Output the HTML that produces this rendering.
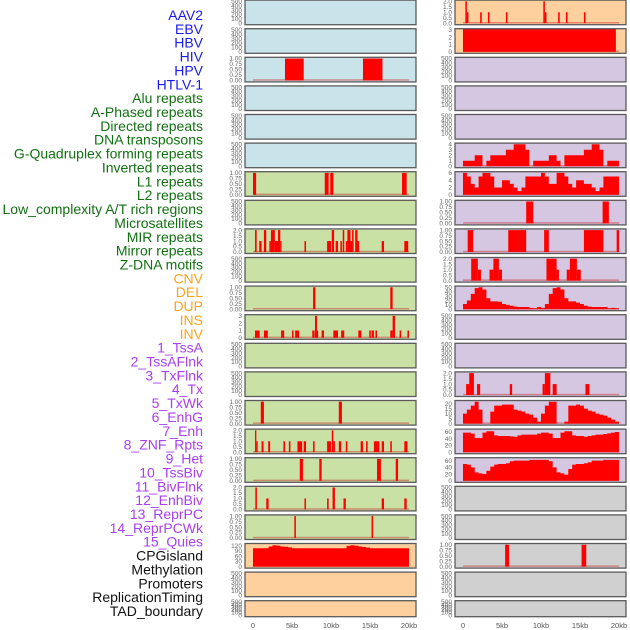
<!DOCTYPE html>
<html><head><meta charset="utf-8">
<style>
html,body{margin:0;padding:0;background:#fff;}
svg{display:block;}
.lbl{font-family:"Liberation Sans",sans-serif;font-size:14px;}
.tk{font-family:"Liberation Sans",sans-serif;font-size:6.5px;fill:#666;}
.xt{font-family:"Liberation Sans",sans-serif;font-size:7.5px;fill:#555;}
</style></head>
<body>
<svg id="chart" width="630" height="630" viewBox="0 0 630 630">
<g id="labels"></g>
<g id="panels"></g>
<g id="xaxis"></g>
</svg>
<script>
// ---- data ----
const labelNames = ["AAV2","EBV","HBV","HIV","HPV","HTLV-1","Alu repeats","A-Phased repeats","Directed repeats","DNA transposons","G-Quadruplex forming repeats","Inverted repeats","L1 repeats","L2 repeats","Low_complexity A/T rich regions","Microsatellites","MIR repeats","Mirror repeats","Z-DNA motifs","CNV","DEL","DUP","INS","INV","1_TssA","2_TssAFlnk","3_TxFlnk","4_Tx","5_TxWk","6_EnhG","7_Enh","8_ZNF_Rpts","9_Het","10_TssBiv","11_BivFlnk","12_EnhBiv","13_ReprPC","14_ReprPCWk","15_Quies","CPGisland","Methylation","Promoters","ReplicationTiming","TAD_boundary"];
const labelGroups = [0,0,0,0,0,0,1,1,1,1,1,1,1,1,1,1,1,1,1,2,2,2,2,2,3,3,3,3,3,3,3,3,3,3,3,3,3,3,3,4,4,4,4,4];
const xTickValues = [0,5,10,15,20];
const xTickLabels = ["0","5kb","10kb","15kb","20kb"];
const emptyTicks = [0,100,200,300,400,500];
const emptyTickLabels = ["0","100","200","300","400","500"];
const tick1 = [0,0.25,0.5,0.75,1]; const tick1L = ["0.00","0.25","0.50","0.75","1.00"];
const tick2 = [0,0.5,1,1.5,2]; const tick2L = ["0.0","0.5","1.0","1.5","2.0"];
const tick3 = [0,1,2,3]; const tick3L = ["0","1","2","3"];

// left column panels (bars: [startKb, endKb, value])
const leftBg = ["b","b","b","b","b","b","g","g","g","g","g","g","g","g","g","g","g","g","g","o","o","o"];
const leftBars = {
 2: [[4.1,6.5,1],[14.1,16.6,1]],
 6: [[0,0.4,1],[9.2,9.7,1],[9.9,10.3,1],[19.1,19.7,1]],
 8: [[0.26,0.47,2],[0.8,1.1,1],[1.4,1.7,2],[2.1,2.3,1],[2.3,2.8,2],[2.8,3.3,1],[3.2,3.5,2],[3.5,3.6,1],[6.6,6.8,1],[9.5,10.0,1],[10.1,10.4,2],[10.6,10.9,1],[11.2,11.4,1],[11.5,11.7,2],[11.9,12.1,1],[12.1,12.5,2],[12.5,12.7,1],[12.7,12.9,2],[13.1,13.4,2],[13.4,13.6,1],[16.5,16.8,1],[19.4,19.9,1]],
 10: [[7.7,8.0,1],[17.6,17.9,1]],
 11: [[0.26,0.85,1],[1.4,1.9,1],[3.6,4.0,1],[5.0,5.2,1],[5.4,5.9,1],[7.6,7.9,1],[7.95,8.2,3],[8.2,8.3,1],[8.8,9.1,1],[10.3,10.9,1],[11.3,11.7,1],[13.5,13.9,1],[14.9,15.1,1],[15.2,15.5,1],[15.7,15.9,1],[17.6,17.9,1],[17.9,18.2,3],[18.8,19.0,1],[19.8,20.0,1]],
 14: [[1.0,1.4,1],[11.0,11.4,1]],
 15: [[0.26,0.43,2],[0.43,0.6,1],[1.1,1.35,1],[1.95,2.2,1],[3.9,4.1,1],[4.6,4.8,1],[5.7,6.3,1],[6.5,6.8,1],[7.7,7.9,1],[9.5,10.0,1],[10.1,10.3,2],[10.3,10.5,1],[11.0,11.3,1],[11.9,12.1,1],[13.8,14.1,1],[14.5,14.7,1],[15.5,16.2,1],[16.5,16.8,1],[17.6,17.8,1],[19.4,19.8,1]],
 16: [[6.0,6.4,1],[8.5,8.8,1],[15.9,16.4,1],[18.3,18.6,1]],
 17: [[0.3,0.5,2],[1.7,2.0,1],[6.6,6.8,1],[9.5,9.7,1],[10.2,10.5,2],[11.6,11.9,1],[16.5,16.8,1],[19.4,19.7,1]],
 18: [[5.3,5.5,1],[15.2,15.4,1]]
};
const leftBins = {
 19: [105,105,105,105,115,122,120,115,113,110,105,105,105,105,105,105,105,105,105,105,105,105,105,105,118,122,120,115,112,108,105,105,105,105,105,105,105,105,105,105]
};
const leftScale = {2:1,6:1,8:2,10:1,11:3,14:1,15:2,16:1,17:2,18:1,19:125};

// right column panels
const rightBg = ["o","o","p","p","p","p","p","p","p","p","p","p","p","p","p","p","p","y","y","y","y","y"];
const rightBars = {
 0: [[0.3,0.5,2],[0.5,0.7,1],[2.2,2.4,1],[3.2,3.4,1],[5.5,5.7,1],[10.3,10.5,2],[10.5,10.7,1],[12.2,12.4,1],[13.2,13.4,1],[15.5,15.7,1]],
 1: [[0,19.6,3.3]],
 7: [[8.1,9.0,1],[17.9,18.7,1]],
 8: [[0.6,1.3,1],[5.8,8.1,1],[10.4,11.0,1],[15.5,18.0,1],[19.7,20.0,1]],
 9: [[1.05,1.9,2],[1.9,2.3,1],[3.4,3.9,1],[3.9,4.6,2],[4.6,5.0,1],[10.7,12.0,2],[12.0,12.3,1],[13.3,13.7,1],[13.7,14.6,2],[14.6,15.1,1]],
 13: [[0.4,0.8,1],[0.8,1.4,2],[1.8,2.2,1],[6.0,6.3,1],[10.2,10.5,1],[10.5,11.2,2],[11.5,12.0,1],[15.7,16.2,1]],
 19: [[5.4,5.9,1],[15.2,15.8,1]]
};
const rightBins = {
 5: [1,1,1,2,2,0,1,2,2,2,2,3,3,4,4,4,3,0,1,1,1,1,2,2,1,0,2,2,2,2,2,3,3,4,4,3,0,1,1,1],
 6: [6,5,3,2,5,6,6,5,2,2,4,4,3,2,1,2,5,5,5,5,6,5,3,3,6,6,5,3,2,4,4,3,3,2,1,2,5,5,5,5],
 10: [12,20,35,48,50,45,25,18,18,17,12,10,8,6,5,5,5,3,2,5,3,12,35,48,50,45,25,18,18,15,12,8,6,5,5,5,5,2,3,2],
 14: [10,14,18,22,14,0,0,12,18,18,19,19,19,14,13,12,10,9,6,2,10,18,22,22,0,0,2,18,18,19,18,15,13,12,10,9,8,6,4,2],
 15: [58,58,55,42,42,58,62,62,50,48,48,48,47,46,50,52,52,52,52,55,58,58,55,42,42,58,62,62,50,48,48,46,48,50,52,52,54,56,58,60],
 16: [50,48,40,25,22,20,30,42,48,50,50,52,58,60,60,60,60,62,62,62,62,62,58,40,25,22,18,35,48,50,50,52,55,60,60,60,62,62,62,62]
};
const rightScale = {0:2,1:3,5:4,6:6,7:1,8:1,9:2,10:50,13:2,14:22,15:65,16:65,19:1};
const rightTicks = {
 5:[[0,1,2,3,4],["0","1","2","3","4"]],
 6:[[0,2,4,6],["0","2","4","6"]],
 10:[[0,10,20,30,40,50],["0","10","20","30","40","50"]],
 14:[[0,5,10,15,20],["0","5","10","15","20"]],
 15:[[0,20,40,60],["0","20","40","60"]],
 16:[[0,20,40,60],["0","20","40","60"]]
};
const leftTicks = {19:[[0,30,60,90,120],["0","30","60","90","120"]]};

// ---- rendering ----
const NS = "http://www.w3.org/2000/svg";
const colors = {b:"#c8e3ea",g:"#c9e1a5",o:"#fed09e",p:"#d5c6e1",y:"#d0d0d0"};
const groupColors = ["#1a1aee","#127012","#ffa31a","#a83ff0","#111111"];
function mk(tag, attrs, parent){const e=document.createElementNS(NS,tag);for(const k in attrs)e.setAttribute(k,attrs[k]);parent.appendChild(e);return e;}

const labelsG = document.getElementById("labels");
const labelPitch = (611-15)/(labelNames.length-1);
labelNames.forEach((name,i)=>{
  const t = mk("text",{x:203,y:15+i*labelPitch+5,"text-anchor":"end",class:"lbl",fill:groupColors[labelGroups[i]]},labelsG);
  t.textContent = name;
  
  
});

const panelsG = document.getElementById("panels");
const KBPX = 7.8;
function rowTop(i){return 0.1+28.6*i;}
function rowH(i){return i===21?16:24.6;}

function drawPanel(col, i, bg, bars, bins, scale, ticks){
  const px = col===0?245:455, pw = 171;
  const x0 = col===0?253:463;
  const top = rowTop(i), h = rowH(i);
  const g = mk("g",{},panelsG);
  
  
  mk("rect",{x:px,y:top,width:pw,height:h,fill:colors[bg]},g);
  const yb = top+h-1.5, yt = top+1.2;
  const ymax = scale || 500;
  const ys = v => yb - (v/ymax)*(yb-yt);
  const xs = kb => x0 + kb*KBPX;
  let tv, tl;
  if (ticks) {tv=ticks[0]; tl=ticks[1];}
  else if (!scale) {tv=emptyTicks; tl=emptyTickLabels;}
  else if (scale===1) {tv=tick1; tl=tick1L;}
  else if (scale===2) {tv=tick2; tl=tick2L;}
  else {tv=tick3; tl=tick3L;}
  tv.forEach((v,k)=>{
    const t = mk("text",{x:px-3,y:ys(v)+2.2,"text-anchor":"end",class:"tk"},g);
    t.textContent = tl[k];
    
    
  });
  if (bars || bins) {
    const base = mk("rect",{x:xs(0),y:yb-1.2,width:20*KBPX,height:1.5,fill:"rgba(200,40,40,0.45)"},g);
    
    
  }
  if (bars) bars.forEach(b=>{
    const y = Math.max(ys(b[2]), top);
    const r = mk("rect",{x:xs(b[0]),y:y,width:Math.max(1.2,xs(b[1])-xs(b[0])),height:yb-y,fill:"#ff0000"},g);
    
    
  });
  if (bins) {
    let d = "M"+xs(0)+","+yb;
    bins.forEach((v,k)=>{const y=Math.max(ys(v),top);d+=" L"+xs(k*0.5)+","+y+" L"+xs(k*0.5+0.5)+","+y;});
    d += " L"+xs(bins.length*0.5)+","+yb+" Z";
    const p = mk("path",{d:d,fill:"#ff0000"},g);
    
    
  }
  mk("rect",{x:px,y:top,width:pw,height:h,fill:"none",stroke:"#5a5a5a","stroke-width":1.3},g);
}
for (let i=0;i<22;i++){
  drawPanel(0,i,leftBg[i],leftBars[i],leftBins[i],leftScale[i],leftTicks[i]);
  drawPanel(1,i,rightBg[i],rightBars[i],rightBins[i],rightScale[i],rightTicks[i]);
}

const xg = document.getElementById("xaxis");
[253,463].forEach(x0=>{
  xTickValues.forEach((v,k)=>{
    const t = mk("text",{x:x0+v*KBPX,y:628,"text-anchor":"middle",class:"xt"},xg);
    t.textContent = xTickLabels[k];
    
    
  });
});
</script>
</body></html>
